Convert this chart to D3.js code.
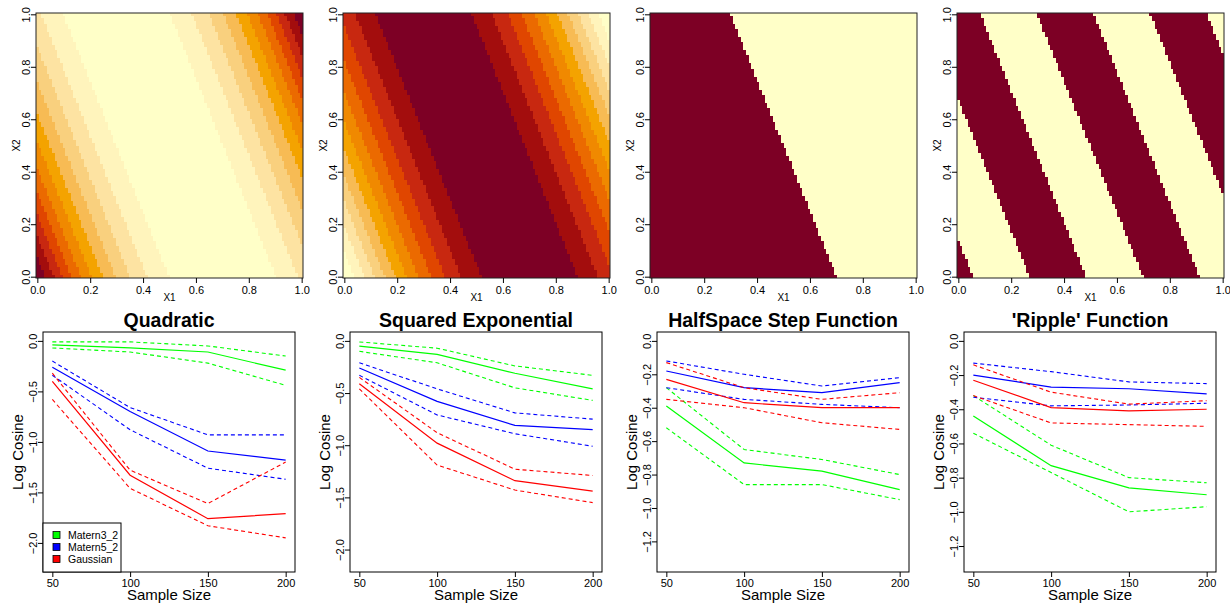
<!DOCTYPE html>
<html lang="en">
  <head>
    <meta charset="utf-8" />
    <title>Log Cosine by Kernel</title>
    <script src="https://d3js.org/d3.v7.min.js"></script>
    <style type="text/css">
      body { margin: 0; background: #fff; }
      svg { display: block; font-family: 'Liberation Sans', Arial, sans-serif; }
    </style>
  </head>
  <body>
    <script type="text/javascript">
      // ---- Data ----
      const panelTitles = ['Quadratic', 'Squared Exponential', 'HalfSpace Step Function', "'Ripple' Function"];
      const sampleSizes = [50, 100, 150, 200];
      const kernels = ['Matern3_2', 'Matern5_2', 'Gaussian'];
      const kernelColours = ['#00ff00', '#0000ff', '#ff0000'];

      // rows: Matern3_2, Matern5_2, Gaussian
      const quadMean = [[-0.04, -0.07, -0.11, -0.29], [-0.26, -0.70, -1.09, -1.18], [-0.40, -1.33, -1.76, -1.71]];
      const quadUpper = [[-0.01, -0.01, -0.05, -0.15], [-0.20, -0.66, -0.93, -0.93], [-0.32, -1.28, -1.61, -1.20]];
      const quadLower = [[-0.07, -0.11, -0.22, -0.44], [-0.34, -0.88, -1.26, -1.37], [-0.58, -1.46, -1.83, -1.95]];

      const sqexpMean = [[-0.05, -0.13, -0.31, -0.46], [-0.26, -0.58, -0.81, -0.85], [-0.41, -0.98, -1.34, -1.44]];
      const sqexpUpper = [[-0.01, -0.07, -0.24, -0.33], [-0.21, -0.46, -0.69, -0.75], [-0.35, -0.88, -1.23, -1.29]];
      const sqexpLower = [[-0.10, -0.21, -0.45, -0.57], [-0.33, -0.71, -0.89, -1.01], [-0.46, -1.19, -1.43, -1.55]];

      const stepMean = [[-0.39, -0.73, -0.78, -0.89], [-0.18, -0.28, -0.31, -0.25], [-0.23, -0.37, -0.40, -0.40]];
      const stepUpper = [[-0.28, -0.65, -0.71, -0.80], [-0.12, -0.20, -0.27, -0.22], [-0.13, -0.28, -0.35, -0.31]];
      const stepLower = [[-0.52, -0.86, -0.86, -0.95], [-0.28, -0.35, -0.38, -0.40], [-0.35, -0.40, -0.49, -0.53]];

      const rippleMean = [[-0.44, -0.73, -0.86, -0.90], [-0.20, -0.27, -0.28, -0.31], [-0.23, -0.39, -0.41, -0.40]];
      const rippleUpper = [[-0.32, -0.61, -0.80, -0.83], [-0.13, -0.18, -0.24, -0.25], [-0.14, -0.30, -0.37, -0.35]];
      const rippleLower = [[-0.54, -0.77, -1.00, -0.97], [-0.33, -0.38, -0.375, -0.365], [-0.32, -0.48, -0.49, -0.50]];

      const yLimits = [[-2.2, 0], [-2.13, 0], [-1.33, 0], [-1.3, 0]];
      const yTicksBig = [0, -0.5, -1, -1.5, -2];
      const yTicksSmall = [0, -0.2, -0.4, -0.6, -0.8, -1, -1.2];
      const unitTicks = [0, 0.2, 0.4, 0.6, 0.8, 1];

      // heat map surfaces: value depends on x1 + 0.4*x2
      const gridN = 100;
      const projWeights = [1, 0.4];
      const projCentre = 0.7;
      const stepEdge = 0.7;
      const rippleStart = 0.055;
      const rippleWidth = 0.2143;
      const heatColours = [
        '#ffffc8', '#fff4bc', '#fde3a2', '#f9d07e', '#f7bb54', '#f4a300',
        '#f08900', '#eb6a00', '#e04600', '#c82810', '#a30d0d', '#7d0025'
      ];

      // ---- Layout ----
      const w = 1230;
      const h = 603;
      const step = 307;

      const svg = d3
        .select('body')
        .append('svg')
        .attr('width', w)
        .attr('height', h);

      const fmtTick = d => d3.format('.1f')(d).replace('-', '\u2212');

      // ---- Top row: image plots ----
      const proj = (a, b) => projWeights[0] * a + projWeights[1] * b;
      const surfaces = [
        (a, b) => Math.pow(proj(a, b) - projCentre, 2),
        (a, b) => Math.exp(-Math.pow(proj(a, b) - projCentre, 2)),
        (a, b) => (proj(a, b) < stepEdge ? 1 : 0),
        (a, b) => (Math.floor((proj(a, b) - rippleStart) / rippleWidth) % 2 !== 0 ? 1 : 0)
      ];

      const heatW = 267;
      const heatTop = 13;
      const heatBottom = 278;
      const grid = d3.range(gridN).map(i => i / (gridN - 1));
      const half = 0.5 / (gridN - 1);

      surfaces.forEach((f, p) => {
        const left = 36 + p * step;
        const xScale = d3.scaleLinear().domain([-half, 1 + half]).range([left, left + heatW]);
        const yScale = d3.scaleLinear().domain([-half, 1 + half]).range([heatBottom, heatTop]);

        const z = [];
        grid.forEach(b => grid.forEach(a => z.push(f(a, b))));
        const zMin = d3.min(z);
        const zMax = d3.max(z);
        const n = heatColours.length;
        const level = v => Math.min(n - 1, Math.floor(((v - zMin) / (zMax - zMin)) * n));

        // merge runs of equal colour along each row
        const cells = [];
        grid.forEach((b, j) => {
          let start = 0;
          for (let i = 1; i <= gridN; i++) {
            if (i === gridN || level(z[j * gridN + i]) !== level(z[j * gridN + start])) {
              cells.push({ a0: grid[start] - half, a1: grid[i - 1] + half, b: b, lev: level(z[j * gridN + start]) });
              start = i;
            }
          }
        });

        const g = svg.append('g');
        g.selectAll('rect')
          .data(cells)
          .enter()
          .append('rect')
          .attr('x', d => xScale(d.a0))
          .attr('width', d => xScale(d.a1) - xScale(d.a0))
          .attr('y', d => yScale(d.b + half))
          .attr('height', d => yScale(d.b - half) - yScale(d.b + half))
          .attr('fill', d => heatColours[d.lev])
          .attr('shape-rendering', 'crispEdges');

        g.append('rect')
          .attr('x', left)
          .attr('y', heatTop)
          .attr('width', heatW)
          .attr('height', heatBottom - heatTop)
          .attr('fill', 'none')
          .attr('stroke', '#222')
          .attr('stroke-width', 1);

        const xAxis = d3.axisBottom(xScale).tickValues(unitTicks).tickFormat(fmtTick).tickSize(5).tickSizeOuter(0);
        const gx = g.append('g').attr('transform', `translate(0,${heatBottom})`).call(xAxis);
        gx.select('.domain').remove();
        gx.selectAll('text').attr('y', 15.5).attr('dy', 0).style('font-size', '11px').style('font-family', 'Liberation Sans, Arial, sans-serif').attr('fill', '#000');

        const yAxis = d3.axisLeft(yScale).tickValues(unitTicks).tickFormat(fmtTick).tickSize(5).tickSizeOuter(0);
        const gy = g.append('g').attr('transform', `translate(${left},0)`).call(yAxis);
        gy.select('.domain').remove();
        gy.selectAll('text')
          .attr('transform', 'rotate(-90)')
          .attr('x', 0)
          .attr('y', -6)
          .attr('dy', 0)
          .style('text-anchor', 'middle')
          .style('font-size', '11px')
          .style('font-family', 'Liberation Sans, Arial, sans-serif')
          .attr('fill', '#000');

        // axis names
        g.append('text')
          .attr('x', left + heatW / 2)
          .attr('y', 301)
          .style('text-anchor', 'middle')
          .style('font-size', '10px')
          .text('X1');
        g.append('text')
          .attr('transform', `translate(${left - 16},${(heatTop + heatBottom) / 2}) rotate(-90)`)
          .style('text-anchor', 'middle')
          .style('font-size', '10px')
          .text('X2');
      });

      // ---- Bottom row: log cosine vs sample size ----
      const means = [quadMean, sqexpMean, stepMean, rippleMean];
      const uppers = [quadUpper, sqexpUpper, stepUpper, rippleUpper];
      const lowers = [quadLower, sqexpLower, stepLower, rippleLower];
      const yTickSets = [yTicksBig, yTicksBig, yTicksSmall, yTicksSmall];

      const lineW = 252;
      const lineTop = 332;
      const lineBottom = 572;

      panelTitles.forEach((title, p) => {
        const left = 43 + p * step;
        const lim = yLimits[p];
        const pad = (lim[1] - lim[0]) * 0.04;
        const xScale = d3.scaleLinear().domain([44, 206]).range([left, left + lineW]);
        const yScale = d3.scaleLinear().domain([lim[0] - pad, lim[1] + pad]).range([lineBottom, lineTop]);
        const line = d3
          .line()
          .x((d, i) => xScale(sampleSizes[i]))
          .y(d => yScale(d));

        const g = svg.append('g');

        kernels.forEach((k, ki) => {
          [uppers[p][ki], lowers[p][ki]].forEach(vals => {
            g.append('path')
              .attr('d', line(vals))
              .attr('fill', 'none')
              .attr('stroke', kernelColours[ki])
              .attr('stroke-width', 1.1)
              .attr('stroke-dasharray', '4,3');
          });
          g.append('path')
            .attr('d', line(means[p][ki]))
            .attr('fill', 'none')
            .attr('stroke', kernelColours[ki])
            .attr('stroke-width', 1.2);
        });

        g.append('rect')
          .attr('x', left)
          .attr('y', lineTop)
          .attr('width', lineW)
          .attr('height', lineBottom - lineTop)
          .attr('fill', 'none')
          .attr('stroke', '#000')
          .attr('stroke-width', 1);

        const xAxis = d3.axisBottom(xScale).tickValues(sampleSizes).tickSize(5).tickSizeOuter(0);
        const gx = g.append('g').attr('transform', `translate(0,${lineBottom})`).call(xAxis);
        gx.select('.domain').remove();
        gx.selectAll('text').attr('y', 14.8).attr('dy', 0).style('font-size', '11px').style('font-family', 'Liberation Sans, Arial, sans-serif').attr('fill', '#000');

        const yAxis = d3.axisLeft(yScale).tickValues(yTickSets[p]).tickFormat(fmtTick).tickSize(5).tickSizeOuter(0);
        const gy = g.append('g').attr('transform', `translate(${left},0)`).call(yAxis);
        gy.select('.domain').remove();
        gy.selectAll('text')
          .attr('transform', 'rotate(-90)')
          .attr('x', 0)
          .attr('y', -6)
          .attr('dy', 0)
          .style('text-anchor', 'middle')
          .style('font-size', '11px')
          .style('font-family', 'Liberation Sans, Arial, sans-serif')
          .attr('fill', '#000');

        // titles
        g.append('text')
          .attr('x', left + lineW / 2)
          .attr('y', 327)
          .style('text-anchor', 'middle')
          .style('font-size', '19.5px')
          .style('font-weight', 'bold')
          .text(title);
        g.append('text')
          .attr('x', left + lineW / 2)
          .attr('y', 600)
          .style('text-anchor', 'middle')
          .style('font-size', '15px')
          .text('Sample Size');
        g.append('text')
          .attr('transform', `translate(${left - 20},${(lineTop + lineBottom) / 2}) rotate(-90)`)
          .style('text-anchor', 'middle')
          .style('font-size', '15px')
          .text('Log Cosine');

        // legend only on the first panel
        if (p === 0) {
          const lg = g.append('g');
          lg.append('rect')
            .attr('x', left)
            .attr('y', lineBottom - 49)
            .attr('width', 78)
            .attr('height', 49)
            .attr('fill', '#fff')
            .attr('stroke', '#000')
            .attr('stroke-width', 1);
          kernels.forEach((k, ki) => {
            const cy = lineBottom - 37 + ki * 12;
            lg.append('rect')
              .attr('x', left + 10)
              .attr('y', cy - 3.5)
              .attr('width', 7)
              .attr('height', 7)
              .attr('fill', kernelColours[ki])
              .attr('stroke', '#000')
              .attr('stroke-width', 0.8);
            lg.append('text')
              .attr('x', left + 25)
              .attr('y', cy + 3.8)
              .style('font-size', '10.5px')
              .text(k);
          });
        }
      });
    </script>
  </body>
</html>
